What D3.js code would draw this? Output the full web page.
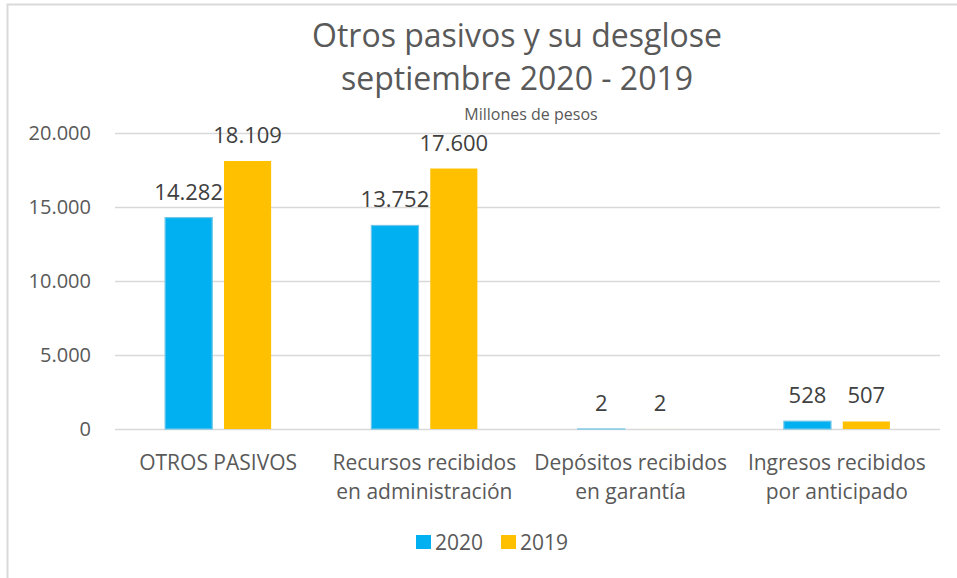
<!DOCTYPE html>
<html>
<head>
<meta charset="utf-8">
<script src="https://cdn.jsdelivr.net/npm/d3@7"></script>
<style>
  body { margin: 0; background: #fff; }
  svg { display: block; font-family: "Open Sans", sans-serif; }
</style>
</head>
<body>
<svg width="957" height="578"></svg>
<script>
// chart data
const categories = [
  ['OTROS PASIVOS'],
  ['Recursos recibidos', 'en administración'],
  ['Depósitos recibidos', 'en garantía'],
  ['Ingresos recibidos', 'por anticipado']
];
const seriesNames = ['2020', '2019'];
const values2020 = [14282, 13752, 2, 528];
const values2019 = [18109, 17600, 2, 507];
const yTicks = [0, 5000, 10000, 15000, 20000];

const colors = {'2020': '#00B0F0', '2019': '#FFC000'};
const edge = {'2020': '#6FC6E8', '2019': '#FFC000'};
const fmt = d3.formatLocale({decimal: ',', thousands: '.', grouping: [3], currency: ['$', '']}).format(',d');

const svg = d3.select('svg');
const margin = {left: 115, top: 133, right: 17, bottom: 149};
const width = +svg.attr('width') - margin.left - margin.right;
const height = +svg.attr('height') - margin.top - margin.bottom;

// frame of the chart area (right and bottom edges fall outside the picture)
svg.append('rect')
  .attr('x', 7.5).attr('y', 4.5)
  .attr('width', 1200).attr('height', 1200)
  .attr('fill', 'none')
  .attr('stroke', '#D9D9D9')
  .attr('stroke-width', 2);

const data = categories.map((c, i) => ({
  key: i, lines: c,
  vals: [{s: '2020', v: values2020[i]}, {s: '2019', v: values2019[i]}]
}));

const xScale = d3.scaleBand()
  .domain(data.map(d => d.key))
  .range([0, width]);

const xInner = d3.scaleBand()
  .domain(seriesNames)
  .range([xScale.bandwidth() / 2 - 53, xScale.bandwidth() / 2 + 53])
  .paddingInner(0.2);

const yScale = d3.scaleLinear()
  .domain([0, 20000])
  .range([height, 0]);

const g = svg.append('g')
  .attr('transform', `translate(${margin.left},${margin.top})`);

// gridlines + y labels
const yAxis = d3.axisLeft(yScale)
  .tickValues(yTicks)
  .tickFormat(fmt)
  .tickSize(-width)
  .tickPadding(24);
const yAxisG = g.append('g').call(yAxis);
yAxisG.select('.domain').remove();
yAxisG.selectAll('.tick line')
  .attr('stroke', '#D9D9D9')
  .attr('stroke-width', 1.5);
yAxisG.selectAll('text')
  .attr('fill', '#595959')
  .attr('font-size', '20px')
  .attr('font-family', '"Open Sans", sans-serif');

// bars
const groups = g.selectAll('.cat')
  .data(data).enter().append('g')
  .attr('class', 'cat')
  .attr('transform', d => `translate(${xScale(d.key)},0)`);

groups.selectAll('rect')
  .data(d => d.vals).enter().append('rect')
  .attr('x', d => xInner(d.s))
  .attr('y', d => yScale(d.v))
  .attr('width', xInner.bandwidth())
  .attr('height', d => height - yScale(d.v))
  .attr('fill', d => colors[d.s])
  .attr('stroke', d => edge[d.s])
  .attr('stroke-width', d => d.s === '2020' ? 1.2 : 0);

groups.selectAll('.val')
  .data(d => d.vals).enter().append('text')
  .attr('class', 'val')
  .attr('x', d => xInner(d.s) + xInner.bandwidth() / 2)
  .attr('y', d => yScale(d.v) - 18)
  .attr('text-anchor', 'middle')
  .attr('font-size', '22px')
  .attr('fill', '#404040')
  .text(d => fmt(d.v));

// category labels
const xAxisG = g.append('g')
  .attr('transform', `translate(0,${height})`);
const catText = xAxisG.selectAll('text')
  .data(data).enter().append('text')
  .attr('x', d => xScale(d.key) + xScale.bandwidth() / 2)
  .attr('y', 41)
  .attr('text-anchor', 'middle')
  .attr('font-size', '21px')
  .attr('fill', '#595959');
catText.selectAll('tspan')
  .data(d => d.lines).enter().append('tspan')
  .attr('x', function() { return d3.select(this.parentNode).attr('x'); })
  .attr('dy', (d, i) => i === 0 ? 0 : 29)
  .text(d => d);

// titles
svg.append('text')
  .attr('x', 517).attr('y', 47)
  .attr('text-anchor', 'middle')
  .attr('font-size', '32px')
  .attr('fill', '#595959')
  .text('Otros pasivos y su desglose');
svg.append('text')
  .attr('x', 517).attr('y', 90)
  .attr('text-anchor', 'middle')
  .attr('font-size', '32px')
  .attr('fill', '#595959')
  .text('septiembre 2020 - 2019');
svg.append('text')
  .attr('x', 531).attr('y', 120)
  .attr('text-anchor', 'middle')
  .attr('font-size', '16px')
  .attr('fill', '#595959')
  .text('Millones de pesos');

// legend
const legend = svg.append('g').attr('transform', 'translate(416,535)');
const li = legend.selectAll('g')
  .data(seriesNames).enter().append('g')
  .attr('transform', (d, i) => `translate(${i * 85},0)`);
li.append('rect')
  .attr('width', 15).attr('height', 14)
  .attr('fill', d => colors[d]);
li.append('text')
  .attr('x', 19).attr('y', 14.5)
  .attr('font-size', '21px')
  .attr('fill', '#595959')
  .text(d => d);
</script>
</body>
</html>
